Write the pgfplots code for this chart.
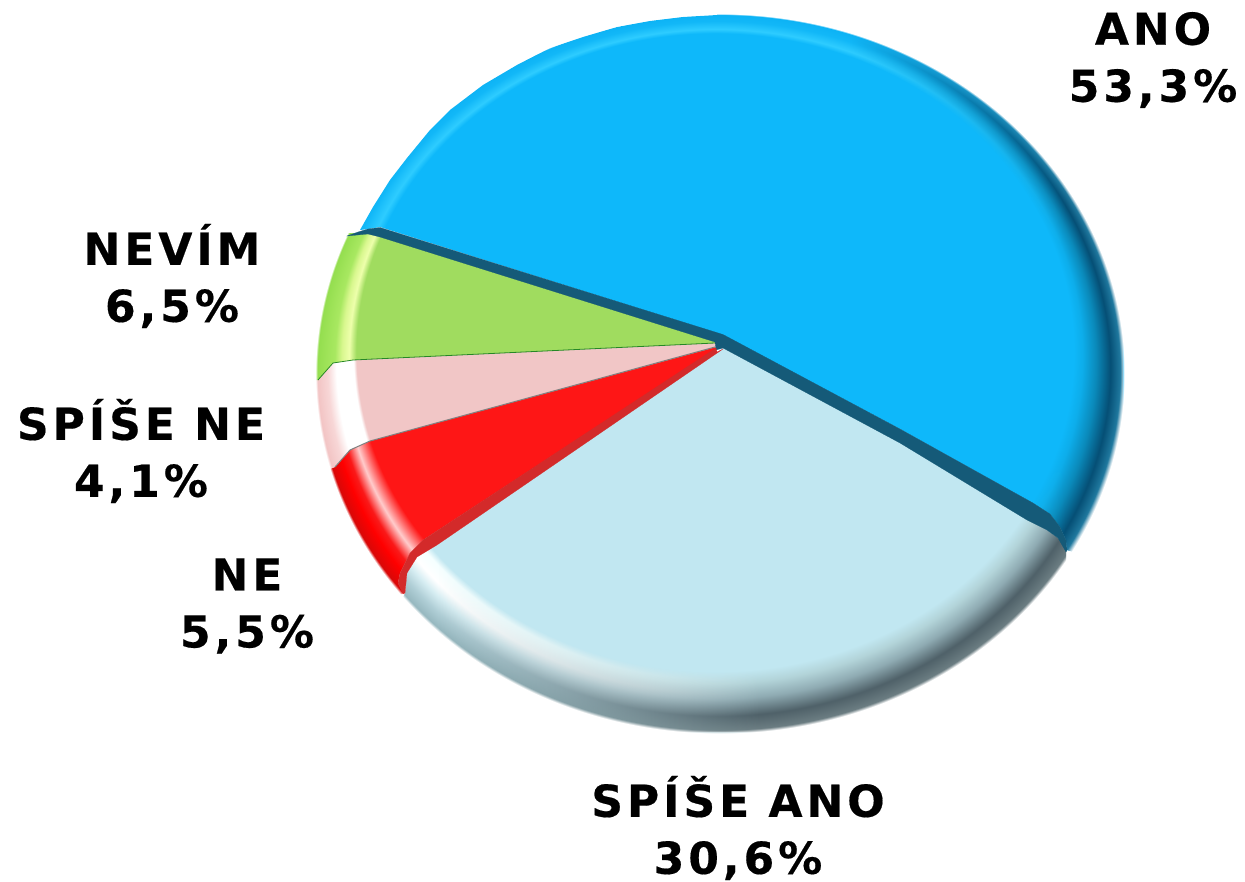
\documentclass[border=0pt]{standalone}
\usepackage{pgfplots}
\usepackage{fontspec}
\pgfplotsset{compat=1.18}
\usetikzlibrary{fadings}
\setmainfont{DejaVu Sans}
\newfontfamily\lab[LetterSpace=9,FakeBold=0.4]{DejaVu Sans Bold}

\definecolor{bandBlue}{HTML}{155A78}
\definecolor{bandRed}{HTML}{D32A2A}

% rim shadings: circle 44.5bp is the top face, 50bp the outer edge of the pie
\pgfdeclareradialshading{rimBlue}{\pgfpoint{-5.5bp}{26bp}}{rgb(0bp)=(0.055,0.722,0.98); rgb(44.5bp)=(0.055,0.722,0.98); rgb(45.7bp)=(0.18,0.80,1); rgb(48bp)=(0.07,0.72,0.97); rgb(49.8bp)=(0.05,0.70,0.96); rgb(50.2bp)=(1,1,1)}
\pgfdeclareradialshading{rimBlueDark}{\pgfpoint{-5.5bp}{26bp}}{rgb(0bp)=(0.055,0.722,0.98); rgb(44.5bp)=(0.055,0.722,0.98); rgb(45.5bp)=(0.05,0.68,0.92); rgb(47bp)=(0.04,0.54,0.73); rgb(48.6bp)=(0.02,0.31,0.46); rgb(49.7bp)=(0.12,0.47,0.62); rgb(50.2bp)=(1,1,1)}
\pgfdeclareradialshading{rimSky}{\pgfpoint{-5.5bp}{26bp}}{rgb(0bp)=(0.757,0.906,0.945); rgb(44.5bp)=(0.757,0.906,0.945); rgb(45.2bp)=(0.96,1,1); rgb(46.5bp)=(1,1,1); rgb(47.5bp)=(0.84,0.93,0.95); rgb(48.7bp)=(0.69,0.81,0.84); rgb(49.9bp)=(0.59,0.72,0.75); rgb(50.2bp)=(1,1,1)}
\pgfdeclareradialshading{rimSkyDark}{\pgfpoint{-5.5bp}{26bp}}{rgb(0bp)=(0.757,0.906,0.945); rgb(44.5bp)=(0.757,0.906,0.945); rgb(45.6bp)=(0.70,0.83,0.85); rgb(47bp)=(0.56,0.67,0.70); rgb(48.6bp)=(0.31,0.38,0.41); rgb(49.9bp)=(0.42,0.49,0.51); rgb(50.2bp)=(1,1,1)}
\pgfdeclareradialshading{rimPink}{\pgfpoint{-5.5bp}{26bp}}{rgb(0bp)=(0.945,0.776,0.776); rgb(44.5bp)=(0.945,0.776,0.776); rgb(44.9bp)=(1,1,1); rgb(47.3bp)=(1,1,1); rgb(48.5bp)=(0.97,0.84,0.84); rgb(49.9bp)=(0.95,0.77,0.77); rgb(50.2bp)=(1,1,1)}
\pgfdeclareradialshading{rimGreen}{\pgfpoint{-5.5bp}{26bp}}{rgb(0bp)=(0.627,0.863,0.373); rgb(44.5bp)=(0.627,0.863,0.373); rgb(45.5bp)=(0.93,1,0.67); rgb(46.5bp)=(0.85,0.97,0.56); rgb(47.5bp)=(0.66,0.91,0.38); rgb(49.9bp)=(0.58,0.87,0.31); rgb(50.2bp)=(1,1,1)}
\pgfdeclareradialshading{rimRed}{\pgfpoint{-5.5bp}{26bp}}{rgb(0bp)=(0.996,0.086,0.086); rgb(44.5bp)=(0.996,0.086,0.086); rgb(46.2bp)=(1,0.80,0.80); rgb(47.5bp)=(0.98,0.10,0.10); rgb(48.5bp)=(1,0,0); rgb(49.9bp)=(0.85,0.03,0.03); rgb(50.2bp)=(1,1,1)}

% fadings for the darker rim towards the right
\pgfdeclarehorizontalshading{fadeBlueS}{100bp}{color(0bp)=(pgftransparent!100); color(66bp)=(pgftransparent!100); color(93bp)=(pgftransparent!0); color(100bp)=(pgftransparent!0)}
\pgfdeclarefading{fadeBlue}{\pgfuseshading{fadeBlueS}}
\pgfdeclarehorizontalshading{fadeSkyS}{100bp}{color(0bp)=(pgftransparent!100); color(15bp)=(pgftransparent!100); color(55bp)=(pgftransparent!0); color(100bp)=(pgftransparent!0)}
\pgfdeclarefading{fadeSky}{\pgfuseshading{fadeSkyS}}

\newcommand\rimxf{\pgftransformshift{\pgfplotspointaxisxy{720}{373.5}}\pgftransformxscale{8.03}\pgftransformyscale{7.143}\pgflowlevelsynccm}
\newcommand\rimbase[1]{\begin{pgfscope}\rimxf\pgfuseshading{#1}\end{pgfscope}}
\newcommand\rimfade[2]{\begin{pgfscope}\rimxf\pgfsetfading{#2}{}\pgfuseshading{#1}\end{pgfscope}}

\tikzset{
  rim/.style={draw=none, path picture={\rimbase{#1}}},
  rim2/.style n args={3}{draw=none, path picture={\rimbase{#1}\rimfade{#2}{#3}}},
  lab/.style={font=\lab\fontsize{44}{57}\selectfont, align=center, text=black, inner sep=0pt}
}

\begin{document}
\begin{tikzpicture}
\begin{axis}[
  scale only axis, width=1245pt, height=881pt,
  hide axis, clip=false, no markers,
  xmin=0, xmax=1245, ymin=0, ymax=881, y dir=reverse]

  % SPISE ANO
  \addplot[rim2={rimSky}{rimSkyDark}{fadeSky}] coordinates {
    (723,348) (437,545) (417,557) (407,573) (405,593) (395,615) (480,720) (720,760)
    (950,730) (1090,600) (1066,563) (1066,548) (1058,538) (1047,530) (1027,520) (900,440)} --cycle;
  % NE
  \addplot[rim=rimRed] coordinates {
    (715,346) (370,441) (350,450) (335,467) (300,480) (380,610) (403,593)
    (398,583) (400,573) (410,553) (423,540) (716,349)} --cycle;
  % SPISE NE
  \addplot[rim=rimPink] coordinates {
    (715,343) (353,360) (333,363) (318,380) (300,380) (300,480) (335,467) (350,450) (370,441) (716,347)} --cycle;
  % NEVIM
  \addplot[rim=rimGreen] coordinates {
    (716,343) (715,338) (380,234) (347,233) (300,236) (300,381) (318,380) (333,363) (353,360)} --cycle;
  % ANO
  \addplot[rim2={rimBlue}{rimBlueDark}{fadeBlue}] coordinates {
    (723,335) (900,429) (1033,503) (1050,514) (1060,527) (1066,540) (1067,550) (1100,560)
    (1180,373) (1100,80) (720,0) (717,15) (683,17) (650,21) (617,27) (583,37) (550,48)
    (517,65) (483,85) (450,110) (430,130) (407,158) (390,180) (373,207) (360,230) (368,229) (380,227)} --cycle;

  % edges between the slices
  \addplot[draw=bandBlue, fill=bandBlue, line width=0.2pt] coordinates {
    (358,232) (368,229) (380,227.5) (723,334.5) (900,429) (1033,503) (1050,514) (1060,527)
    (1066,540) (1067,550) (1066,552) (1058,538) (1047,530) (1027,520) (900,443) (723,348)
    (716,350) (715,342) (380,237) (368,234) (347,236)} --cycle;
  \addplot[draw=bandRed, fill=bandRed, line width=0.2pt] coordinates {
    (716,348) (423,540) (410,553) (400,573) (398,583) (403,594) (405,593) (407,573)
    (417,557) (437,545) (723,349) (717,352)} --cycle;
  \addplot[draw=black!50, line width=1pt] coordinates {
    (715,347) (370,441) (350,450) (335,467)};
  \addplot[draw=green!45!black!85, line width=0.8pt] coordinates {
    (715,343) (353,360) (333,363) (318,380)};

  \node[lab] at (axis cs:1153,60) {ANO\\53,3\%};
  \node[lab] at (axis cs:172,276) {NEVÍM\\6,5\%};
  \node[lab] at (axis cs:141,451) {SPÍŠE NE\\4,1\%};
  \node[lab] at (axis cs:247,606) {NE\\5,5\%};
  \node[lab] at (axis cs:738,828) {SPÍŠE ANO\\30,6\%};
\end{axis}
\pgfresetboundingbox
\useasboundingbox (0,0) rectangle (1245pt,881pt);
\end{tikzpicture}
\end{document}
